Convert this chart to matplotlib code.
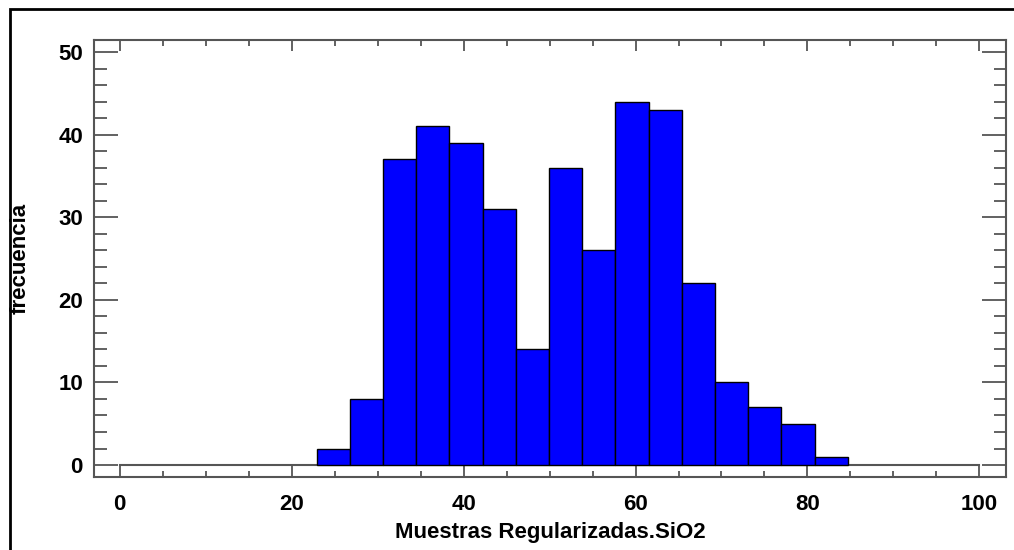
import numpy as np
import matplotlib.pyplot as plt
from matplotlib.patches import Rectangle
from matplotlib.ticker import MultipleLocator

# histogram of SiO2 values: 16 equal bins between these limits
bin_lo = 22.9
bin_hi = 84.7
counts = [2, 8, 37, 41, 39, 31, 14, 36, 26, 44, 43, 22, 10, 7, 5, 1]

x_ticks = [0, 20, 40, 60, 80, 100]
y_ticks = [0, 10, 20, 30, 40, 50]

plt.rcParams['font.family'] = ['Liberation Sans', 'DejaVu Sans']
plt.rcParams['font.weight'] = 'bold'

fig = plt.figure(figsize=(10.14, 5.5), dpi=100)
ax = fig.add_axes([94 / 1014, 1 - 477 / 550, (1006 - 94) / 1014, (477 - 40) / 550])

edges = np.linspace(bin_lo, bin_hi, len(counts) + 1)
ax.bar(edges[:-1], counts, width=np.diff(edges), align='edge',
       color='#0000ff', edgecolor='black', linewidth=1.0, zorder=3)

# zero line across the full data range
ax.plot([0, 100], [0, 0], color='#555555', linewidth=1.5, zorder=2)

ax.set_xlim(-3.0, 103.1)
ax.set_ylim(-1.45, 51.45)
ax.set_xticks(x_ticks)
ax.set_yticks(y_ticks)
ax.xaxis.set_minor_locator(MultipleLocator(5))
ax.yaxis.set_minor_locator(MultipleLocator(2))

ax.tick_params(which='both', direction='in', top=True, right=True, color='#555555', width=1.3)
ax.tick_params(axis='y', which='major', length=17, labelsize=16, pad=8)
ax.tick_params(axis='y', which='minor', length=9)
ax.tick_params(axis='x', which='major', length=8, labelsize=16, pad=12)
ax.tick_params(axis='x', which='minor', length=4)

for s in ax.spines.values():
    s.set_color('#555555')
    s.set_linewidth(1.5)

ax.set_xlabel('Muestras Regularizadas.SiO2', fontsize=16, fontweight='bold', labelpad=5)
ax.set_ylabel('frecuencia', fontsize=16, fontweight='bold')
ax.yaxis.set_label_coords(-63 / 912, 0.5)

# frame round the whole plot
fig.patches.append(Rectangle((10 / 1014, -0.1), 1.2, 1 - 9 / 550 + 0.1,
                             transform=fig.transFigure, fill=False,
                             edgecolor='black', linewidth=2.0))

plt.savefig('out.png', dpi=100)
